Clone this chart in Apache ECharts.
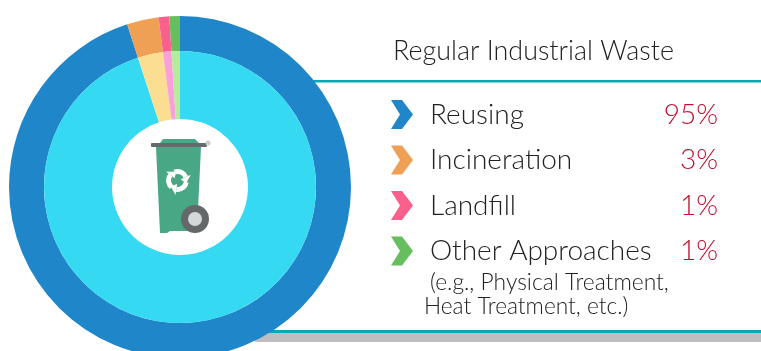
<!DOCTYPE html>
<html>
<head>
<meta charset="utf-8">
<style>html,body{margin:0;padding:0;background:#fff}#main{width:761px;height:351px}</style>
<script src="https://cdn.jsdelivr.net/npm/echarts@6/dist/echarts.min.js"></script>
</head>
<body>
<div id="main"></div>
<script>
const categories = ['Reusing', 'Incineration', 'Landfill', 'Other Approaches'];
const shares = [95, 3, 1, 1];
const shareLabels = ['95%', '3%', '1%', '1%'];
const outerColors = ['#1F86C9', '#EFA055', '#F9608C', '#66BE5E'];
const innerColors = ['#35D9F2', '#FCDE92', '#FB9FD8', '#B5EB9F'];
const titleText = 'Regular Industrial Waste';
const noteLines = ['(e.g., Physical Treatment,', 'Heat Treatment, etc.)'];

const FONT = 'Lato';
const INK = '#222';
const chevron = 'path://M0,0 L11,0 L22,14.5 L11,29 L0,29 L9,14.5 Z';

function ringData(colors) {
	return categories.map(function (name, i) {
		return { name: name, value: shares[i], itemStyle: { color: colors[i] } };
	});
}

function arrowArc(start) {
	// one third of the recycling loop, with its arrow head
	const cx = 177.5, cy = 180.5, r = 9, a = start + 1.5;
	const tip = a + 0.75;
	return [
		{ type: 'arc', shape: { cx: cx, cy: cy, r: r, startAngle: start, endAngle: a },
			style: { stroke: '#fff', fill: null, lineWidth: 5 }, z: 12 },
		{ type: 'polygon', shape: { points: [
			[cx + 14.5 * Math.cos(a), cy + 14.5 * Math.sin(a)],
			[cx + 3.5 * Math.cos(a), cy + 3.5 * Math.sin(a)],
			[cx + r * Math.cos(tip), cy + r * Math.sin(tip)]
		] }, style: { fill: '#fff' }, z: 12 }
	];
}

const myChart = echarts.init(document.getElementById('main'), null, { renderer: 'canvas' });

const option = {
	animation: false,
	backgroundColor: '#fff',
	title: {
		text: titleText, left: 388, top: 33,
		textStyle: { fontFamily: FONT, fontSize: 26.9, fontWeight: 300, color: INK }
	},
	legend: {
		orient: 'vertical', left: 391, top: 100, padding: 0,
		data: categories, itemWidth: 22, itemHeight: 29, itemGap: 16.5, selectedMode: false,
		icon: chevron,
		formatter: function (name) {
			const i = categories.indexOf(name);
			return '{n|' + name + '}{v|' + shareLabels[i] + '}';
		},
		textStyle: {
			rich: {
				n: { fontFamily: FONT, fontSize: 28, fontWeight: 300, color: INK, width: 232, padding: [0, 0, 0, 12] },
				v: { fontFamily: FONT, fontSize: 28, fontWeight: 300, color: '#C00F30', width: 56, align: 'right' }
			}
		}
	},
	series: [
		{
			type: 'pie', name: 'outer', center: [180, 187], radius: [136, 171], startAngle: 90, clockwise: true,
			silent: true, label: { show: false }, labelLine: { show: false }, z: 5,
			data: ringData(outerColors)
		},
		{
			type: 'pie', name: 'inner', center: [180, 187], radius: [68, 136], startAngle: 90, clockwise: true,
			silent: true, label: { show: false }, labelLine: { show: false }, z: 5,
			data: ringData(innerColors)
		}
	],
	graphic: [
		// panel rules behind the donut
		{ type: 'rect', shape: { x: 255, y: 333, width: 506, height: 9 }, style: { fill: '#BEBEC0' }, z: -1 },
		{ type: 'rect', shape: { x: 255, y: 330, width: 506, height: 3 }, style: { fill: '#08AAB2' }, z: -1 },
		{ type: 'rect', shape: { x: 300, y: 80, width: 461, height: 2.5 }, style: { fill: '#08AAB2' }, z: -1 },
		// note under the last legend row
		{ type: 'text', x: 430, y: 271, style: { text: noteLines[0], font: '300 22.8px ' + FONT, fill: INK }, z: 10 },
		{ type: 'text', x: 424, y: 295, style: { text: noteLines[1], font: '300 22.7px ' + FONT, fill: INK }, z: 10 },
		// bin icon
		{ type: 'polygon', shape: { points: [[156, 147], [201, 147], [197, 231], [170, 231], [167, 233], [160, 233]] },
			style: { fill: '#48A885' }, z: 10 },
		{ type: 'polygon', shape: { points: [[160, 143], [163, 139], [195, 139], [199, 143]] },
			style: { fill: '#48A885' }, z: 10 },
		{ type: 'rect', shape: { x: 151, y: 143, width: 56, height: 4, r: 1 }, style: { fill: '#666A6E' }, z: 11 },
		{ type: 'circle', shape: { cx: 208, cy: 143, r: 2.5 }, style: { fill: '#C9CCCC' }, z: 11 },
		{ type: 'circle', shape: { cx: 195, cy: 219, r: 14 }, style: { fill: '#65686B' }, z: 11 },
		{ type: 'circle', shape: { cx: 195, cy: 219, r: 7 }, style: { fill: '#D5D8D8' }, z: 12 }
	].concat(arrowArc(-1.9), arrowArc(0.2), arrowArc(2.3))
};
myChart.setOption(option);
</script>
</body>
</html>
